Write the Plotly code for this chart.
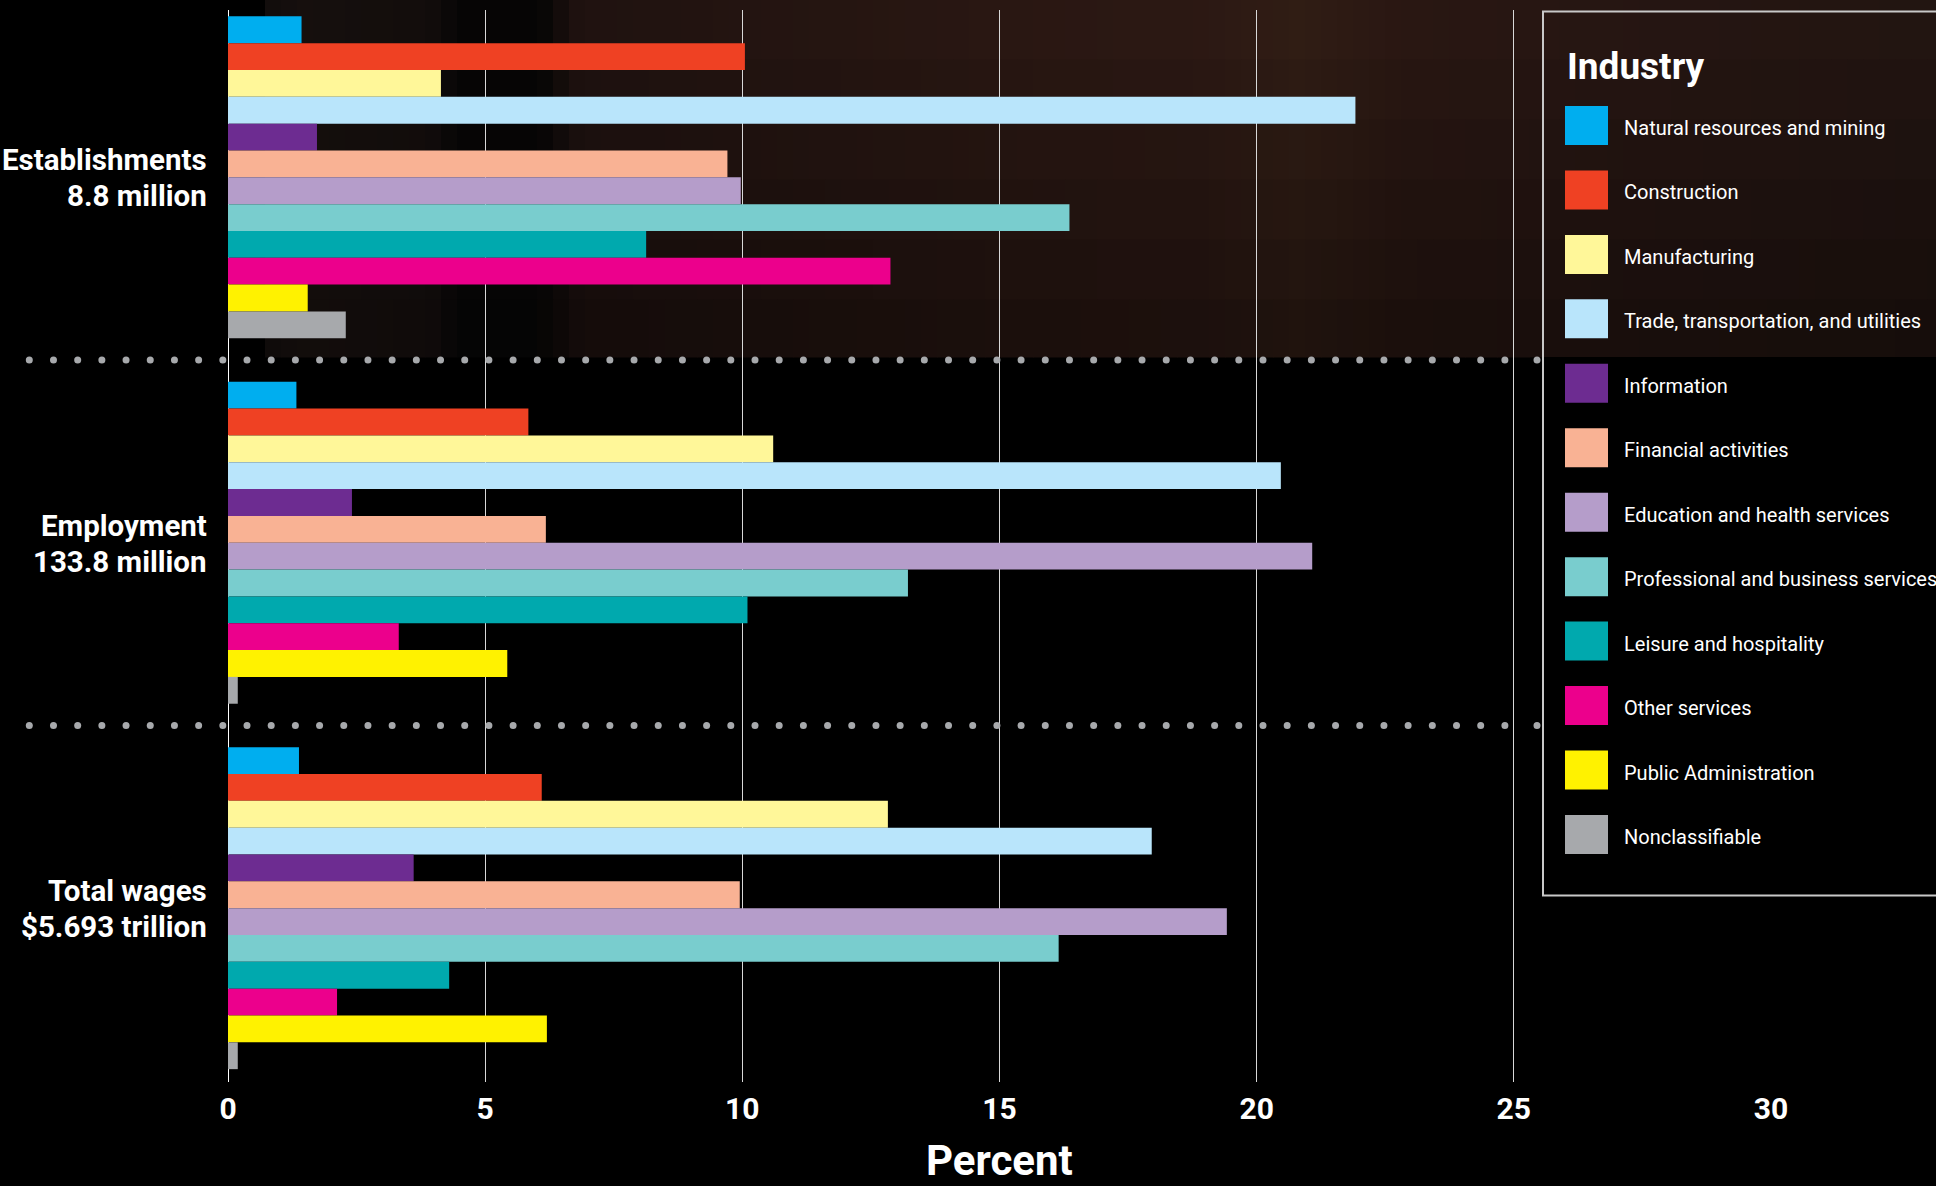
import numpy as np
import plotly.graph_objects as go

# ---------------- data ----------------
groups = ["Establishments", "Employment", "Total wages"]
group_totals = ["8.8 million", "133.8 million", "$5.693 trillion"]

industries = [
    "Natural resources and mining",
    "Construction",
    "Manufacturing",
    "Trade, transportation, and utilities",
    "Information",
    "Financial activities",
    "Education and health services",
    "Professional and business services",
    "Leisure and hospitality",
    "Other services",
    "Public Administration",
    "Nonclassifiable",
]
colors = ["#00AEEF", "#EF4123", "#FFF799", "#B9E5FB", "#6D2C91", "#F9B294",
          "#B59DCA", "#79CDCE", "#00A9AE", "#EC008C", "#FFF200", "#A7A9AC"]

establishments = [1.43, 10.05, 4.14, 21.92, 1.73, 9.71, 9.97, 16.36, 8.13, 12.88, 1.55, 2.29]
employment = [1.33, 5.84, 10.60, 20.47, 2.41, 6.18, 21.08, 13.22, 10.10, 3.32, 5.43, 0.19]
total_wages = [1.38, 6.10, 12.83, 17.96, 3.61, 9.95, 19.42, 16.15, 4.30, 2.12, 6.20, 0.19]

x_ticks = [0, 5, 10, 15, 20, 25, 30]
x_title = "Percent"
legend_title = "Industry"

# ---------------- layout geometry ----------------
W, H = 1936, 1186
ML, MR, MT, MB = 228, 165, 10, 104
PW, PH = W - ML - MR, H - MT - MB

def px(p):
    return (p - ML) / PW

def py(p):
    return 1 - (p - MT) / PH

FONT = "Roboto, sans-serif"

fig = go.Figure()
for name, col, a, b, c in zip(industries, colors, establishments, employment, total_wages):
    fig.add_trace(go.Bar(
        x=[a, b, c], y=groups, orientation="h", name=name,
        marker=dict(color=col, line=dict(width=0)), showlegend=False,
    ))

shapes = []

# background photo band (approximated with tinted cells)
kx = [265, 300, 430, 460, 540, 580, 800, 1000, 1200, 1300, 1400, 1540, 1936]
kr = [16, 20, 17, 6, 6, 26, 30, 34, 36, 40, 34, 32, 28]
kg = [12, 14, 12, 5, 5, 15, 17, 19, 20, 24, 19, 18, 17]
kb = [11, 12, 11, 5, 5, 13, 14, 15, 16, 17, 15, 15, 14]
band_bottom = 357
col_edges = list(range(265, 1543, 16)) + [1543] + list(range(1559, 1937, 16)) + [1936]
col_edges = sorted(set(col_edges))
row_edges = [0, 60, 120, 180, 240, 300, band_bottom]
for j in range(len(row_edges) - 1):
    y0, y1 = row_edges[j], row_edges[j + 1]
    ym = (y0 + y1) / 2
    f = 1.25 - 0.5 * ym / band_bottom
    for i in range(len(col_edges) - 1):
        x0, x1 = col_edges[i], col_edges[i + 1]
        xm = (x0 + x1) / 2
        ff = f if xm > 560 else 1.1 - 0.2 * ym / band_bottom
        r = int(round(min(255, np.interp(xm, kx, kr) * ff)))
        g = int(round(min(255, np.interp(xm, kx, kg) * ff)))
        bb = int(round(min(255, np.interp(xm, kx, kb) * ff)))
        shapes.append(dict(
            type="rect", xref="paper", yref="paper",
            x0=px(x0), x1=px(x1 + 0.6), y0=py(y1 + 0.4), y1=py(y0 - 0.5),
            fillcolor=f"rgb({r},{g},{bb})", line=dict(width=0),
            layer="above" if x0 >= 1543 else "below",
        ))

# legend panel background below band
shapes.append(dict(type="rect", xref="paper", yref="paper",
                   x0=px(1543), x1=px(1940), y0=py(895.5), y1=py(band_bottom),
                   fillcolor="black", line=dict(width=0), layer="above"))
# legend border
shapes.append(dict(type="rect", xref="paper", yref="paper",
                   x0=px(1543), x1=px(1945), y0=py(895.5), y1=py(11.5),
                   fillcolor="rgba(0,0,0,0)", line=dict(color="#c8c8c8", width=2),
                   layer="above"))

# dotted separators between groups (round dots)
dot_x = [29.3 + k * 24.19 for k in range(62)] + [1537]
for ysep in [0.5, 1.5]:
    for dx in dot_x:
        shapes.append(dict(type="circle", xref="paper", yref="y",
                           xsizemode="pixel", ysizemode="pixel",
                           xanchor=px(dx), yanchor=ysep,
                           x0=-3.5, x1=3.5, y0=-3.5, y1=3.5,
                           fillcolor="#a7a9ac", line=dict(width=0), layer="above"))

annotations = []
# legend swatches + labels
annotations.append(dict(text=f"<b>{legend_title}</b>", xref="paper", yref="paper",
                        x=px(1565), y=py(66), xanchor="left", yanchor="middle",
                        showarrow=False, font=dict(family=FONT, size=37, color="white")))
for k, (name, col) in enumerate(zip(industries, colors)):
    top = 106 + k * 64.45
    shapes.append(dict(type="rect", xref="paper", yref="paper",
                       x0=px(1565), x1=px(1608), y0=py(top + 39), y1=py(top),
                       fillcolor=col, line=dict(width=0), layer="above"))
    annotations.append(dict(text=name, xref="paper", yref="paper",
                            x=px(1622), y=py(top + 22), xanchor="left", yanchor="middle",
                            showarrow=False, font=dict(family=FONT, size=20, color="white")))

# group labels (two lines each)
for gname, gtot in zip(groups, group_totals):
    annotations.append(dict(text=f"<b>{gname}</b>", xref="paper", yref="y",
                            x=0, y=gname, xshift=-19, yshift=17,
                            xanchor="right", yanchor="middle", showarrow=False,
                            font=dict(family=FONT, size=29.5, color="white")))
    annotations.append(dict(text=f"<b>{gtot}</b>", xref="paper", yref="y",
                            x=0, y=gname, xshift=-19, yshift=-19,
                            xanchor="right", yanchor="middle", showarrow=False,
                            font=dict(family=FONT, size=29.5, color="white")))

# x-axis title (placed precisely, centred on the 0-30 scale)
annotations.append(dict(text=f"<b>{x_title}</b>", xref="x", yref="paper",
                        x=(x_ticks[0] + x_ticks[-1]) / 2, y=py(1160),
                        xanchor="center", yanchor="middle", showarrow=False,
                        font=dict(family=FONT, size=42, color="white")))

fig.update_layout(
    width=W, height=H,
    margin=dict(l=ML, r=MR, t=MT, b=MB, pad=0, autoexpand=False),
    paper_bgcolor="black", plot_bgcolor="black",
    barmode="group", bargap=0.119, bargroupgap=0,
    shapes=shapes, annotations=annotations,
    showlegend=False,
    xaxis=dict(
        range=[0, 30], tickvals=x_ticks, ticktext=[f"<b>{t}</b>" for t in x_ticks],
        showgrid=True, gridcolor="#d8d8d8", gridwidth=1,
        zeroline=True, zerolinecolor="#ffffff", zerolinewidth=1,
        showline=False, ticks="", ticklabelstandoff=6, automargin=False,
        tickfont=dict(family=FONT, size=30, color="white"),
    ),
    yaxis=dict(
        type="category", categoryorder="array", categoryarray=groups,
        range=[2.4756, -0.4578], showticklabels=False, showgrid=False,
        zeroline=False, showline=False, ticks="", automargin=False,
    ),
)

fig.write_html("out.html", config={"displayModeBar": False},
               post_script="document.body.style.margin='0';document.body.style.overflow='hidden';")
